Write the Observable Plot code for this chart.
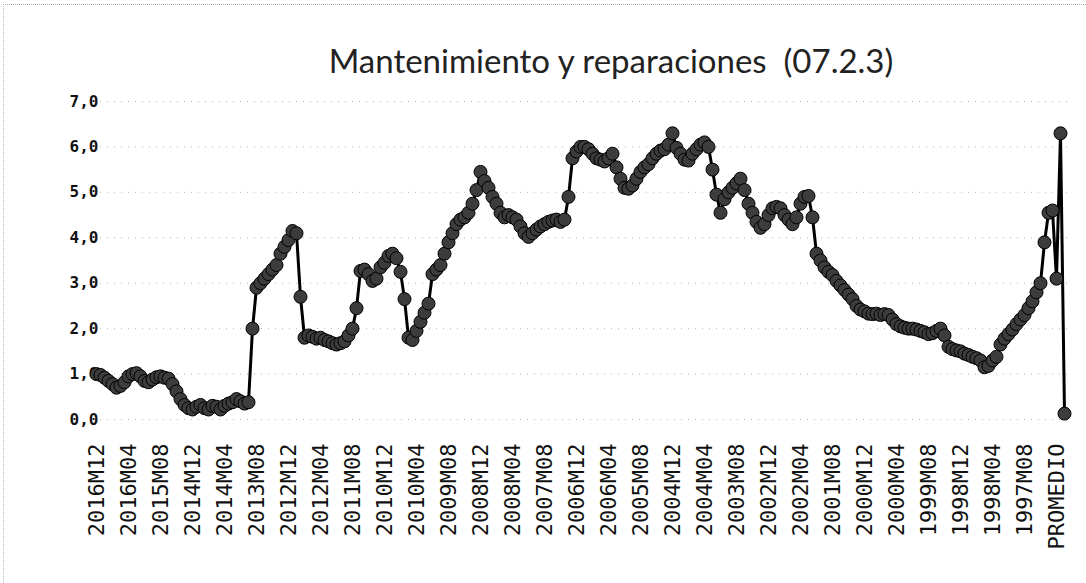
<!DOCTYPE html>
<html><head><meta charset="utf-8">
<script src="https://cdn.jsdelivr.net/npm/d3@7"></script>
<script src="https://cdn.jsdelivr.net/npm/@observablehq/plot@0.6"></script>
<style>
body{margin:0;background:#fff;}
#wrap{position:relative;width:1086px;height:583px;overflow:hidden;background:#fff;}
#frame{position:absolute;left:3px;top:4px;width:1090px;height:600px;border-top:1px dotted #aaa;border-left:1px dotted #bbb;}
#title{position:absolute;left:0;top:40px;width:1086px;padding-left:136px;box-sizing:border-box;text-align:center;font-family:Lato,"Open Sans",sans-serif;font-size:33px;color:#222;white-space:pre;}
#chart{position:absolute;left:0;top:90px;}
</style></head><body>
<div id="wrap"><div id="frame"></div><div id="title">Mantenimiento y reparaciones  (07.2.3)</div><div id="chart"></div></div>
<script>
// Categories: monthly, from 2016M12 back to 1997M01, then summary rows
const anios = d3.range(2016, 1996, -1);
const meses = d3.range(12, 0, -1);
const categoriasMensuales = anios.flatMap(a => meses.map(m => `${a}M${String(m).padStart(2, "0")}`));
const categoriasResumen = ["PROMEDIO", "MÁXIMO", "MÍNIMO"];

// Values (2016M12 ... 1997M01)
const valores = [
  1.00,0.98,0.92,0.85,0.78,0.70,0.74,0.82,0.95,1.00,
  1.02,0.95,0.85,0.82,0.88,0.93,0.95,0.92,0.90,0.78,
  0.62,0.45,0.32,0.25,0.22,0.28,0.32,0.25,0.22,0.30,
  0.28,0.22,0.30,0.35,0.38,0.45,0.40,0.35,0.38,2.00,
  2.90,3.00,3.10,3.20,3.30,3.40,3.65,3.80,3.95,4.15,
  4.10,2.70,1.80,1.85,1.82,1.78,1.80,1.75,1.72,1.68,
  1.65,1.68,1.72,1.85,2.00,2.45,3.27,3.30,3.20,3.05,
  3.10,3.35,3.45,3.60,3.65,3.55,3.25,2.65,1.80,1.75,
  1.95,2.15,2.35,2.55,3.20,3.30,3.40,3.65,3.90,4.10,
  4.30,4.40,4.45,4.55,4.75,5.05,5.45,5.25,5.10,4.90,
  4.75,4.55,4.45,4.50,4.45,4.40,4.25,4.10,4.02,4.10,
  4.18,4.25,4.30,4.35,4.38,4.40,4.35,4.40,4.90,5.75,
  5.90,6.00,6.00,5.95,5.85,5.75,5.72,5.68,5.75,5.85,
  5.55,5.30,5.10,5.08,5.15,5.30,5.45,5.55,5.62,5.75,
  5.85,5.92,5.95,6.05,6.30,5.98,5.85,5.72,5.70,5.85,
  5.95,6.05,6.10,6.00,5.50,4.95,4.55,4.85,5.00,5.10,
  5.20,5.30,5.05,4.75,4.55,4.35,4.22,4.30,4.50,4.65,
  4.68,4.65,4.50,4.40,4.30,4.45,4.75,4.90,4.92,4.45,
  3.65,3.50,3.35,3.25,3.18,3.05,2.95,2.85,2.75,2.65,
  2.50,2.42,2.38,2.33,2.32,2.33,2.30,2.32,2.30,2.20,
  2.10,2.05,2.02,2.00,2.00,1.98,1.95,1.92,1.88,1.90,
  1.95,2.00,1.85,1.60,1.55,1.52,1.50,1.45,1.42,1.38,
  1.35,1.30,1.15,1.18,1.30,1.38,1.65,1.78,1.88,1.98,
  2.10,2.20,2.30,2.45,2.60,2.80,3.00,3.90,4.55,4.60
];
// PROMEDIO, MÁXIMO, MÍNIMO
const resumen = [3.10, 6.30, 0.13];

// Tick labels shown on the axis
const etiquetasEje = [
  "2016M12","2016M04","2015M08","2014M12","2014M04","2013M08","2012M12","2012M04",
  "2011M08","2010M12","2010M04","2009M08","2008M12","2008M04","2007M08","2006M12",
  "2006M04","2005M08","2004M12","2004M04","2003M08","2002M12","2002M04","2001M08",
  "2000M12","2000M04","1999M08","1998M12","1998M04","1997M08","PROMEDIO"
];
const yTicks = [0, 1, 2, 3, 4, 5, 6, 7];

const categorias = [...categoriasMensuales, ...categoriasResumen];
const serie = [...valores, ...resumen];
const data = categorias.map((c, i) => ({c, v: serie[i]}));

const chart = Plot.plot({
  width: 1086, height: 493,
  marginLeft: 100, marginRight: 14, marginTop: 11, marginBottom: 164,
  style: {background: "transparent", color: "#111"},
  x: {type: "point", domain: categorias, range: [93, 1067]},
  y: {domain: [0, 7]},
  marks: [
    Plot.gridY(yTicks, {stroke: "#888", strokeDasharray: "1,6", strokeOpacity: 0.6}),
    Plot.axisY(yTicks, {tickFormat: d => d.toFixed(1).replace(".", ","), tickSize: 0, tickPadding: 2,
      fontSize: 16, fontFamily: "DejaVu Sans Mono", fontWeight: "bold", label: null}),
    Plot.axisX(etiquetasEje, {tickRotate: -90, tickSize: 0, tickPadding: 24,
      fontSize: 22, fontFamily: "DejaVu Sans Mono", label: null}),
    Plot.line(data, {x: "c", y: "v", stroke: "#000", strokeWidth: 3}),
    Plot.dot(data, {x: "c", y: "v", r: 6.5, fill: "#3c3c3c", stroke: "#000", strokeWidth: 1})
  ]
});
document.getElementById("chart").appendChild(chart);
</script>
</body></html>
